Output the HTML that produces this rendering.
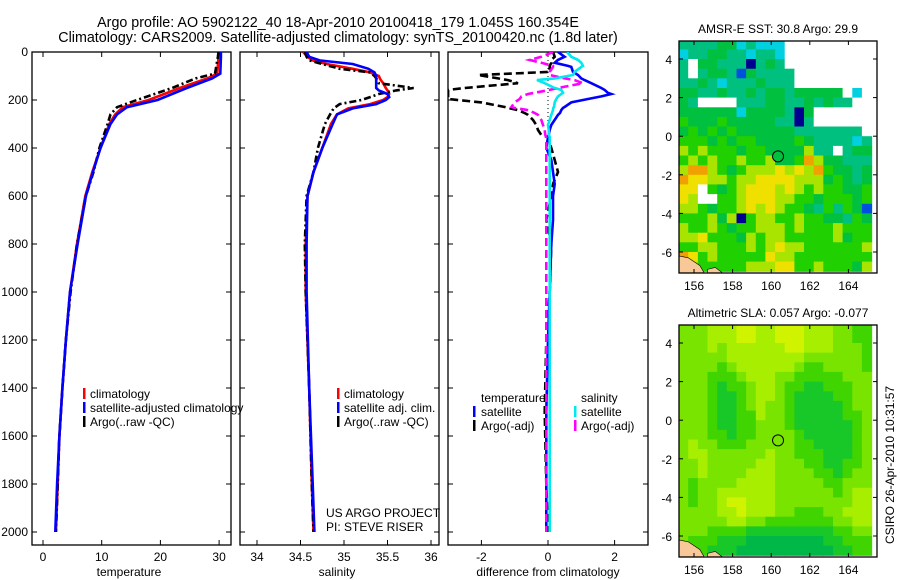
<!DOCTYPE html>
<html><head><meta charset="utf-8"><style>
html,body{margin:0;padding:0;background:#fff;}
svg{display:block;font-family:"Liberation Sans",sans-serif;}
text{font-size:12px;fill:#000;}
</style></head><body>
<svg id="fig" width="900" height="580" viewBox="0 0 900 580" xmlns="http://www.w3.org/2000/svg">
<text x="338" y="27" text-anchor="middle" style="font-size:14.3px">Argo profile: AO 5902122_40 18-Apr-2010 20100418_179 1.045S 160.354E</text>
<text x="338" y="42" text-anchor="middle" style="font-size:14.3px">Climatology: CARS2009. Satellite-adjusted climatology: synTS_20100420.nc (1.8d later)</text>
<g id="g"></g>
</svg>
<script>
// ---- data ----
const tDepth=[0,20,90,110,150,200,230,260,300,400,500,600,800,1000,1200,1400,1600,1800,2000];
const tClim=[30,29.9,29.7,28,23.3,18,13.6,12.3,11.3,9.8,8.4,7.2,5.8,4.6,3.9,3.3,2.8,2.5,2.2];
const tSat=[30.3,30.3,30.2,28.8,24.5,19.5,14.3,12.6,11.5,9.8,8.5,7.3,5.9,4.6,3.9,3.3,2.8,2.4,2.1];
const tArgo=[29.9,29.8,29.3,26,22,16,12.6,11.5,11,9.6,8.6,7.3,5.8,4.7,3.9,3.3,2.8,2.5,2.2];
const sDepth=[0,20,35,50,70,85,100,115,130,150,160,175,188,200,217,235,260,300,400,500,600,800,1000,1400,1800,2000];
const sClim=[34.53,34.58,34.64,34.8,35.1,35.3,35.4,35.42,35.45,35.48,35.5,35.52,35.5,35.45,35.3,35.05,34.92,34.85,34.75,34.65,34.58,34.56,34.56,34.6,34.63,34.65];
const sSat=[34.57,34.6,34.72,35.1,35.28,35.35,35.37,35.37,35.37,35.37,35.4,35.5,35.52,35.48,35.37,35.1,34.92,34.87,34.75,34.65,34.58,34.57,34.57,34.6,34.64,34.66];
const sArgo=[34.55,34.57,34.6,34.75,34.95,35.3,35.35,35.38,35.4,35.8,35.6,35.4,35.3,35.2,34.95,34.88,34.84,34.78,34.7,34.65,34.57,34.55,34.56,34.6,34.63,34.65];
const dDepth=[0,20,33,45,58,62,83,96,110,117,130,150,158,170,175,185,196,210,229,233,242,254,262,283,304,325,346,354,400,450,500,550,600,700,800,1000,1200,1500,1800,2000];
const dTsat=[0.3,0.5,0.3,0.2,0.6,0.7,0.75,0.9,1.0,1.1,1.3,1.6,1.7,1.8,1.9,1.6,1.2,0.7,0.5,0.45,0.4,0.36,0.3,0.2,0.1,0.05,0.02,0,-0.05,0.1,0.15,0.2,0.15,0.15,0.1,0.05,0,-0.05,-0.05,-0.05];
const dTargo=[0.15,0.2,0.1,0.1,0.05,0.05,0.05,-2.1,-1.5,-1.2,-0.9,-2.5,-3,-3,-3,-3,-3,-2,-1.3,-1.2,-0.9,-0.7,-0.6,-0.45,-0.35,-0.3,-0.2,0,0.1,0.2,0.3,0.15,0.1,-0.05,0.1,0.05,-0.05,-0.1,-0.05,0];
const dSsat=[0.57,0.7,0.9,1.0,1.05,1.0,0.8,0.75,0.2,-0.33,-0.1,0.2,0.4,0.45,0.4,0.3,0.25,0.2,0.18,0.16,0.15,0.12,0.1,0.05,0,0.02,0.03,0.05,0.05,0.05,0.05,0.05,0.05,0.05,0.05,0.05,0.05,0.05,0.05,0.05];
const dSargo=[0.15,-0.2,-0.55,-0.2,0.15,0.15,0.05,0.05,0.5,0.8,1.05,0.3,0.05,-0.4,-0.6,-0.8,-0.85,-1.0,-1.1,-1.0,-0.6,-0.4,-0.3,-0.2,-0.15,-0.1,-0.08,-0.05,-0.05,-0.05,-0.05,-0.05,-0.05,-0.05,-0.05,-0.05,-0.05,-0.05,-0.05,-0.05];
const depthTicks=[0,200,400,600,800,1000,1200,1400,1600,1800,2000];
const tTicks=[0,10,20,30];
const sTicks=[34,34.5,35,35.5,36];
const sTickLabels=["34","34.5","35","35.5","36"];
const dTicks=[-2,0,2];
const lonTicks=[156,158,160,162,164];
const latTicks=[4,2,0,-2,-4,-6];
const sstPalette=["#ffffff","#000090","#0050e0","#00d0e0","#00c080","#00c040","#20d000","#a8e400","#f0e000","#f0a000"];
const sstGrid=[
"44445534333000000000","34455443443000000000","40554441454000000000","40455425444400000000",
"44543444544400000000","55445445455455555030","54000044455445454400","55555535555415000000",
"65556555554414000000","56565655555544444440","66656566555565444434","76766656655557440455",
"67676676675569755444","79976567778787965545","98877677888877756545","88065678887876766556",
"87006678887766566656","77656678787665464652","66675716776676655465","76676566777676667666",
"77866657677666667566","66776667678776666667","98676666687766666666","97666667778866766657"];
const slaPalette=["#00b848","#18c828","#40d400","#78e400","#a8ee00","#d0f400"];
const slaGrid=[
"33344455445554443322","33344455445554443322","33343444444554443332","33333444444443333332",
"33332344444432233332","33322234443322222333","33321223443221122233","33321123443211112233",
"33321123433211111233","33321122433211111223","33321122333211111123","33322122333321111123",
"34332223333322111123","34433333343322211123","33433333443332211223","33433334443333221233",
"32333344443333322333","32334444443333332344","32334554443333333344","33334454443322233444",
"33333443322222223344","33322221111111112233","32221110000000011222","22211100000000001122"];
const argoLon=160.354, argoLat=-1.045;

// ---- helpers ----
const NS="http://www.w3.org/2000/svg";
const G=document.getElementById('g');
function mk(tag,attrs,parent){const e=document.createElementNS(NS,tag);for(const k in attrs)e.setAttribute(k,attrs[k]);(parent||G).appendChild(e);return e;}
const yTop=52,yPerM=0.24;
const yD=d=>yTop+d*yPerM;
const xT=v=>43+5.87*v;
const xS=v=>257+87*(v-34);
const xDf=v=>548+33.3*v;
function line(xf,xs,ds,color,dash,name,clip){
  const p=xs.map((v,i)=>xf(v).toFixed(1)+','+yD(ds[i]).toFixed(1)).join(' ');
  const e=mk('polyline',{points:p,fill:'none',stroke:color,'stroke-width':2.6,'stroke-dasharray':dash||'none','clip-path':clip});
  
  
}
function panel(x0,x1,id,name){
  const cp=mk('clipPath',{id:id});mk('rect',{x:x0,y:yTop,width:x1-x0,height:545-yTop},cp);
  const r=mk('rect',{x:x0,y:yTop,width:x1-x0,height:545-yTop,fill:'none',stroke:'#000','stroke-width':1.3});
  
  
  depthTicks.forEach(d=>{mk('line',{x1:x0,x2:x0+5,y1:yD(d),y2:yD(d),stroke:'#000'});mk('line',{x1:x1,x2:x1-5,y1:yD(d),y2:yD(d),stroke:'#000'});});
}
function xticks(vals,labels,f,name){
  vals.forEach((v,i)=>{const x=f(v);mk('line',{x1:x,x2:x,y1:545,y2:540,stroke:'#000'});mk('line',{x1:x,x2:x,y1:yTop,y2:yTop+5,stroke:'#000'});
  const t=mk('text',{x:x,y:561,'text-anchor':'middle'});t.textContent=labels[i];
  
  });
}
function label(x,y,s,name,anchor){const t=mk('text',{x:x,y:y,'text-anchor':anchor||'start'});t.textContent=s;
  
  return t;}
function legMark(x,y,color){mk('rect',{x:x,y:y-10,width:2.5,height:11,fill:color});}

// ---- panel 1 temperature ----
panel(32,231,'c1','temperature-plot');
depthTicks.forEach(d=>{label(28,yD(d)+4,String(d),'depth-tick-label','end');});
xticks(tTicks,tTicks.map(String),xT,'temperature-tick-label');
line(xT,tClim,tDepth,'#ff0000',null,'temperature-climatology-line','url(#c1)');
line(xT,tArgo,tDepth,'#000','7,3,2,3','temperature-argo-line','url(#c1)');
line(xT,tSat,tDepth,'#0000ff',null,'temperature-satellite-line','url(#c1)');
label(129,576,'temperature','x-axis-title-temperature','middle');
legMark(83,398,'#ff0000');label(90,398,'climatology','legend-entry-climatology');
legMark(83,412,'#0000ff');label(90,412,'satellite-adjusted climatology','legend-entry-satellite');
legMark(83,426,'#000');label(90,426,'Argo(..raw -QC)','legend-entry-argo');

// ---- panel 2 salinity ----
panel(240,439,'c2','salinity-plot');
xticks(sTicks,sTickLabels,xS,'salinity-tick-label');
line(xS,sClim,sDepth,'#ff0000',null,'salinity-climatology-line','url(#c2)');
line(xS,sArgo,sDepth,'#000','7,3,2,3','salinity-argo-line','url(#c2)');
line(xS,sSat,sDepth,'#0000ff',null,'salinity-satellite-line','url(#c2)');
label(337,576,'salinity','x-axis-title-salinity','middle');
legMark(337,398,'#ff0000');label(344,398,'climatology','legend-entry-climatology');
legMark(337,412,'#0000ff');label(344,412,'satellite adj. clim.','legend-entry-satellite');
legMark(337,426,'#000');label(344,426,'Argo(..raw -QC)','legend-entry-argo');
label(326,517,'US ARGO PROJECT','project-credit');
label(326,531,'PI: STEVE RISER','pi-credit');

// ---- panel 3 difference ----
panel(448,648,'c3','difference-plot');
xticks(dTicks,dTicks.map(String),xDf,'difference-tick-label');
mk('line',{x1:xDf(0),x2:xDf(0),y1:yTop,y2:yD(300),stroke:'#000','stroke-dasharray':'1,3'});
line(xDf,dTargo,dDepth,'#000','8,4','difference-temp-argo-line','url(#c3)');
line(xDf,dTsat,dDepth,'#0000ff',null,'difference-temp-satellite-line','url(#c3)');
line(xDf,dSargo,dDepth,'#ff00ff','8,4','difference-sal-argo-line','url(#c3)');
line(xDf,dSsat,dDepth,'#00e8f0',null,'difference-sal-satellite-line','url(#c3)');
label(548,576,'difference from climatology','x-axis-title-difference','middle');
label(481,402,'temperature','legend-title-temperature');
legMark(473,416,'#0000ff');label(481,416,'satellite','legend-entry-temp-satellite');
legMark(473,430,'#000');label(481,430,'Argo(-adj)','legend-entry-temp-argo');
label(581,402,'salinity','legend-title-salinity');
legMark(574,416,'#00e8f0');label(581,416,'satellite','legend-entry-sal-satellite');
legMark(574,430,'#ff00ff');label(581,430,'Argo(-adj)','legend-entry-sal-argo');

// ---- maps ----
function map(y0,y1,lat4y,grid,pal,title,name,idc){
  const x0=679,x1=877,ppd=19.3;
  const xL=lon=>694+(lon-156)*ppd;
  const yL=lat=>lat4y+(4-lat)*ppd;
  const cp=mk('clipPath',{id:idc});mk('rect',{x:x0,y:y0,width:x1-x0,height:y1-y0},cp);
  const g=mk('g',{'clip-path':'url(#'+idc+')'});
  
  
  grid.forEach((row,r)=>{for(let c=0;c<row.length;c++){
    const lon=155.2+0.5*c, lat=5-0.5*r;
    mk('rect',{x:xL(lon).toFixed(1),y:yL(lat).toFixed(1),width:ppd*0.5+0.6,height:ppd*0.5+0.6,fill:pal[+row[c]]},g);}});
  const land=mk('path',{d:`M${xL(155.2)},${yL(-6.2)} L${xL(155.7)},${yL(-6.3)} L${xL(156.3)},${yL(-6.7)} L${xL(156.6)},${yL(-7.2)} L${xL(155.2)},${yL(-7.2)} Z M${xL(156.7)},${yL(-6.9)} L${xL(157.1)},${yL(-6.8)} L${xL(157.5)},${yL(-7.1)} L${xL(156.7)},${yL(-7.1)} Z`,fill:'#f8c898',stroke:'#000','stroke-width':0.6},g);
  
  
  const cell=grid[Math.floor((5-argoLat)/0.5)][Math.floor((argoLon-155.2)/0.5)];
  const m=mk('circle',{cx:xL(argoLon),cy:yL(argoLat),r:5.5,fill:pal[+cell],stroke:'#000','stroke-width':1});
  
  
  const fr=mk('rect',{x:x0,y:y0,width:x1-x0,height:y1-y0,fill:'none',stroke:'#000','stroke-width':1.3});
  
  
  lonTicks.forEach(l=>{const x=xL(l);mk('line',{x1:x,x2:x,y1:y1,y2:y1-4,stroke:'#000'});mk('line',{x1:x,x2:x,y1:y0,y2:y0+4,stroke:'#000'});
    label(x,y1+17,String(l),'longitude-tick-label','middle');});
  latTicks.forEach(l=>{const y=yL(l);mk('line',{x1:x0,x2:x0+4,y1:y,y2:y,stroke:'#000'});mk('line',{x1:x1,x2:x1-4,y1:y,y2:y,stroke:'#000'});
    label(672,y+5,String(l),'latitude-tick-label','end');});
  label(778,y0-8,title,name+'-title','middle');
}
map(41,273,59,sstGrid,sstPalette,'AMSR-E SST: 30.8 Argo: 29.9','sst-map','m1');
map(325,557,343,slaGrid,slaPalette,'Altimetric SLA: 0.057 Argo: -0.077','sla-map','m2');
const v=mk('text',{x:0,y:0,'text-anchor':'middle',transform:'translate(894,465) rotate(-90)'});
v.textContent='CSIRO 26-Apr-2010 10:31:57';


</script>
</body></html>
